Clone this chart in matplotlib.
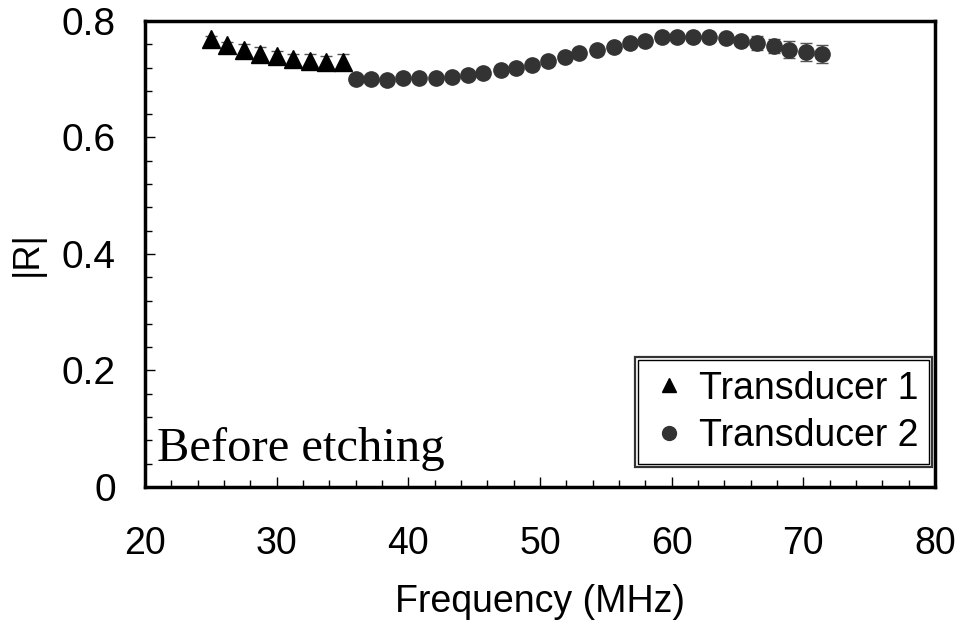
import matplotlib
matplotlib.use("Agg")
import matplotlib.pyplot as plt
from matplotlib.lines import Line2D
from matplotlib.patches import Rectangle
from matplotlib.ticker import MultipleLocator

# Transducer 1 (triangles)
freq1 = [25.0, 26.25, 27.5, 28.75, 30.0, 31.25, 32.5, 33.75, 35.0]
r1 = [0.769, 0.758, 0.750, 0.743, 0.740, 0.735, 0.731, 0.730, 0.730]
err1 = [0.005, 0.006, 0.011, 0.012, 0.008, 0.008, 0.013, 0.009, 0.013]

# Transducer 2 (circles)
freq2 = [36.0, 37.2, 38.4, 39.6, 40.8, 42.1, 43.3, 44.5, 45.7, 47.0, 48.2,
         49.4, 50.6, 51.9, 53.0, 54.3, 55.6, 56.8, 58.0, 59.3, 60.4, 61.6,
         62.85, 64.1, 65.25, 66.5, 67.75, 68.9, 70.2, 71.45]
r2 = [0.700, 0.700, 0.699, 0.702, 0.702, 0.702, 0.704, 0.707, 0.710, 0.715, 0.719,
      0.724, 0.732, 0.738, 0.745, 0.750, 0.756, 0.763, 0.766, 0.772, 0.773, 0.773,
      0.773, 0.770, 0.765, 0.763, 0.757, 0.751, 0.747, 0.743]
err2 = [0.003, 0.003, 0.003, 0.003, 0.003, 0.003, 0.003, 0.003, 0.003, 0.003, 0.003,
        0.003, 0.003, 0.003, 0.003, 0.003, 0.003, 0.004, 0.004, 0.004, 0.004, 0.004,
        0.005, 0.005, 0.006, 0.012, 0.012, 0.015, 0.016, 0.016]

fig = plt.figure(figsize=(9.63, 6.24), dpi=100)
ax = fig.add_axes([0.1506, 0.2196, 0.8203, 0.7468])

sans = ['Liberation Sans', 'DejaVu Sans']

ax.errorbar(freq1, r1, yerr=err1, fmt='^', color='black', ms=13,
            ecolor='#555555', elinewidth=1, capsize=4, zorder=3)
ax.errorbar(freq2, r2, yerr=err2, fmt='o', color='#333333', ms=11,
            ecolor='#555555', elinewidth=1, capsize=4, zorder=3)

ax.set_xlim(20, 80)
ax.set_ylim(0, 0.8)
ax.xaxis.set_major_locator(MultipleLocator(10))
ax.xaxis.set_minor_locator(MultipleLocator(2))
ax.yaxis.set_minor_locator(MultipleLocator(0.04))
ax.set_yticks([0, 0.2, 0.4, 0.6, 0.8])
ax.set_yticklabels(['0', '0.2', '0.4', '0.6', '0.8'])

ax.tick_params(which='both', direction='in', top=False, right=False, width=1)
ax.tick_params(which='major', length=7)
ax.tick_params(which='minor', length=5)
ax.tick_params(axis='x', pad=28, labelsize=27)
ax.tick_params(axis='y', pad=21, labelsize=28)
for lab in ax.get_xticklabels() + ax.get_yticklabels():
    lab.set_family(sans)

for sp in ax.spines.values():
    sp.set_linewidth(2.5)

ax.set_xlabel('Frequency (MHz)', fontsize=27, family=sans, labelpad=16)
ax.set_ylabel('|R|', fontsize=26, family=sans, labelpad=12)

ax.text(0.015, 0.035, 'Before etching', transform=ax.transAxes, fontsize=35,
        family=['Liberation Serif', 'DejaVu Serif'], ha='left', va='bottom')

handles = [Line2D([], [], ls='none', marker='^', color='black', ms=10),
           Line2D([], [], ls='none', marker='o', color='#333333', ms=10)]
leg = ax.legend(handles, ['Transducer 1', 'Transducer 2'],
                loc='lower right', bbox_to_anchor=(0.996, 0.043), borderaxespad=0,
                frameon=True, fancybox=False, edgecolor='black',
                prop={'family': sans, 'size': 27},
                handletextpad=0.25, handlelength=1.1, borderpad=0.35,
                labelspacing=0.3)
leg.get_frame().set_linewidth(1.6)

# inner line of the double legend frame
fig.canvas.draw()
bb = leg.get_window_extent()
inset = 3
inner = Rectangle((bb.x0 + inset, bb.y0 + inset), bb.width - 2 * inset,
                  bb.height - 2 * inset, transform=None, fill=False,
                  edgecolor='black', linewidth=1.0, zorder=6)
fig.patches.append(inner)

fig.savefig('out.png', dpi=100)
